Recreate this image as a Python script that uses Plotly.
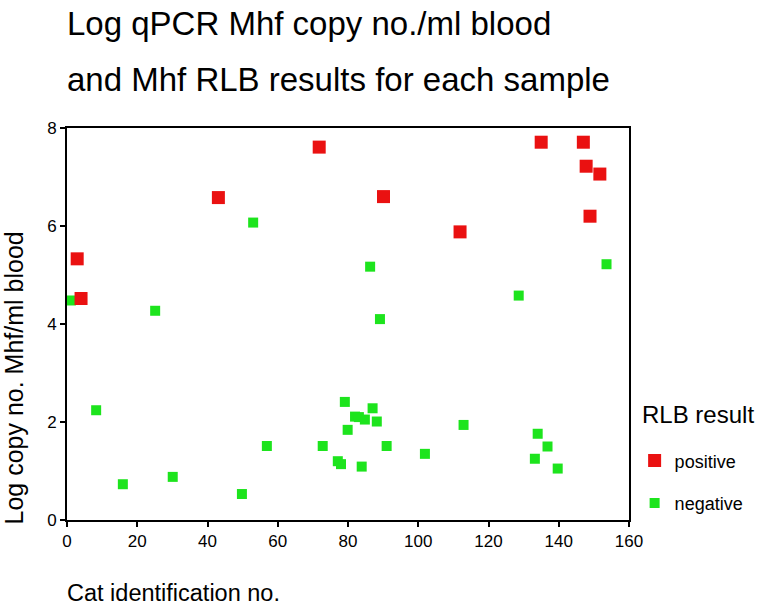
import plotly.graph_objects as go

# Data
pos_id = [2.9, 4.0, 43.1, 71.8, 90.1, 111.9, 135.0, 147.0, 147.8, 151.7, 148.9]
pos_log = [5.33, 4.52, 6.58, 7.61, 6.60, 5.88, 7.71, 7.71, 7.22, 7.06, 6.20]

neg_id = [1.1, 25.1, 53.0, 8.3, 15.9, 30.1, 49.8, 86.3, 89.1, 56.9, 72.8, 79.1,
          87.0, 82.0, 83.1, 84.8, 88.2, 79.9, 91.0, 101.9, 77.1, 78.0, 83.9,
          153.6, 128.6, 112.9, 134.0, 136.8, 133.2, 139.7]
neg_log = [4.48, 4.27, 6.07, 2.24, 0.73, 0.88, 0.53, 5.17, 4.10, 1.51, 1.51, 2.41,
           2.28, 2.11, 2.10, 2.05, 2.01, 1.84, 1.51, 1.35, 1.20, 1.14, 1.09,
           5.22, 4.58, 1.94, 1.76, 1.50, 1.25, 1.05]

x_ticks = [0, 20, 40, 60, 80, 100, 120, 140, 160]
y_ticks = [0, 2, 4, 6, 8]

FONT = "Liberation Sans, Arial, sans-serif"
RED = "#ea1111"
GREEN = "#1de41d"

fig = go.Figure()
fig.add_trace(go.Scatter(
    x=neg_id, y=neg_log, mode="markers", name="negative",
    marker=dict(symbol="square", size=10, color=GREEN),
    legendgroup="neg", legendrank=2, cliponaxis=False))
fig.add_trace(go.Scatter(
    x=pos_id, y=pos_log, mode="markers", name="positive",
    marker=dict(symbol="square", size=13, color=RED),
    legendgroup="pos", legendrank=1, cliponaxis=False))

axis_common = dict(showline=True, linecolor="black", linewidth=2, mirror=True,
                   showgrid=False, zeroline=False, ticks="outside", ticklen=5,
                   tickwidth=1.5, tickcolor="black",
                   tickfont=dict(family=FONT, size=17, color="black"))

fig.update_xaxes(range=[0, 160], tickvals=x_ticks, **axis_common)
fig.update_yaxes(range=[0, 8], tickvals=y_ticks, **axis_common)

annotations = [
    dict(text="Log qPCR Mhf copy no./ml blood", x=-0.004, y=1.319, xanchor="left",
         yanchor="top", font=dict(size=33)),
    dict(text="and Mhf RLB results for each sample", x=-0.004, y=1.1763, xanchor="left",
         yanchor="top", font=dict(size=33)),
    dict(text="Cat identification no.", x=-0.004, y=-0.1862, xanchor="left",
         yanchor="middle", font=dict(size=23.5)),
    dict(text="Log copy no. Mhf/ml blood", x=-0.0943, y=0.361, xanchor="center",
         yanchor="middle", textangle=-90, font=dict(size=25)),
    dict(text="RLB result", x=1.0196, y=0.27, xanchor="left",
         yanchor="middle", font=dict(size=24)),
]
for a in annotations:
    a.update(xref="paper", yref="paper", showarrow=False)
    a["font"].update(family=FONT, color="black")

fig.update_layout(
    width=762, height=610,
    margin=dict(l=67, r=133, t=128, b=90),
    paper_bgcolor="white", plot_bgcolor="white",
    annotations=annotations,
    showlegend=True,
    legend=dict(x=1.01, xanchor="left", y=0.198, yanchor="top",
                tracegroupgap=16, font=dict(family=FONT, size=18, color="black"),
                bgcolor="rgba(0,0,0,0)"),
)

# Remove the browser's default 8px body margin so the figure fills the window.
fig.write_html("out.html", config={"displayModeBar": False},
               post_script="document.body.style.margin='0';")
